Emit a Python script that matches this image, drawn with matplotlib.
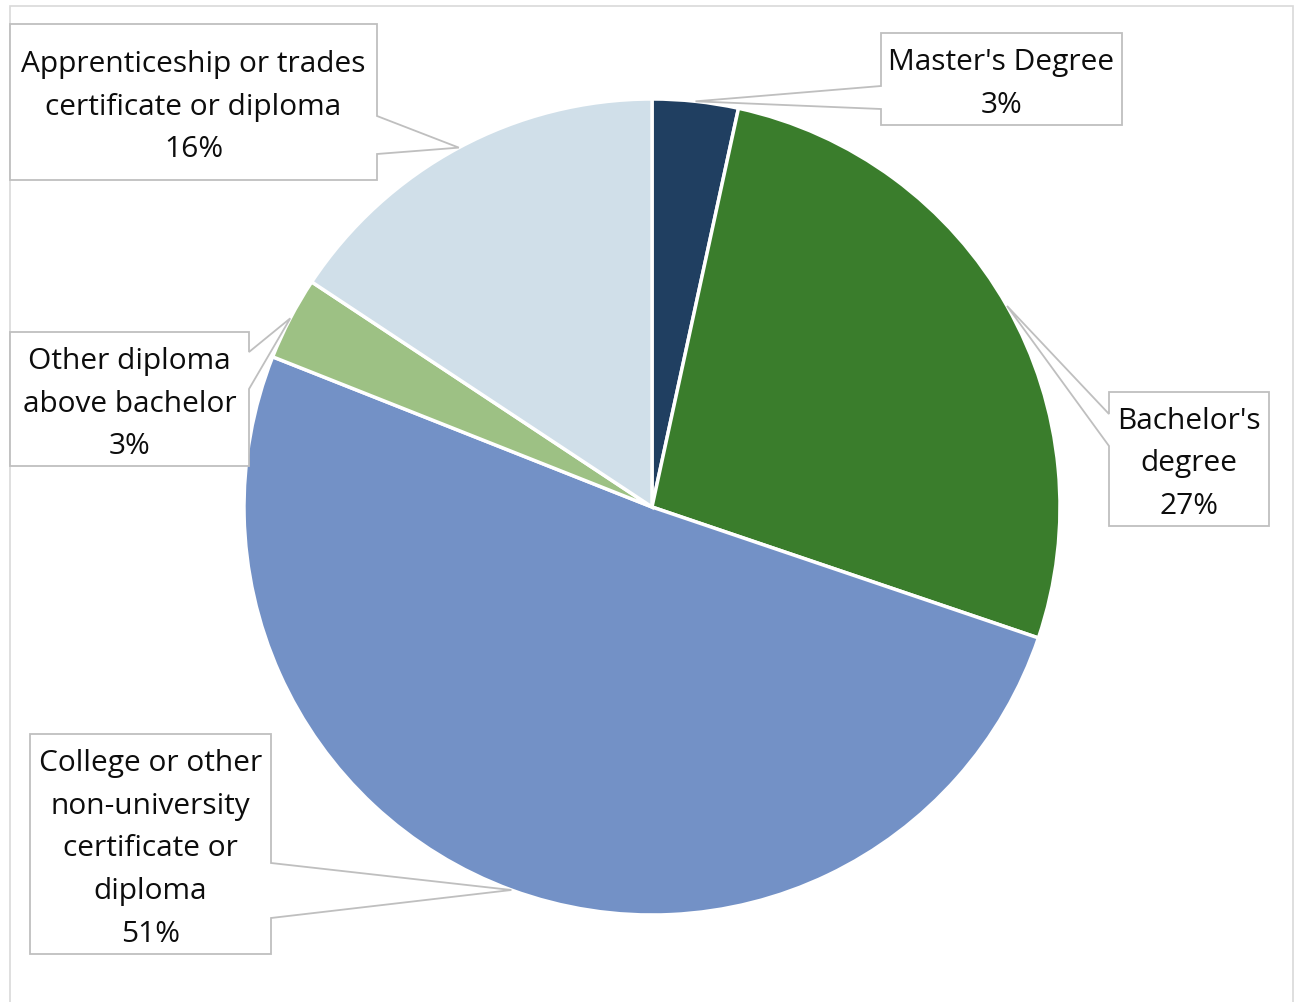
import matplotlib
matplotlib.use("Agg")
import matplotlib.pyplot as plt
from matplotlib.patches import Polygon, Rectangle
import numpy as np

plt.rcParams['font.family'] = ['Open Sans', 'DejaVu Sans']

# data (clockwise from 12 o'clock)
categories = ["Master's Degree", "Bachelor's\ndegree",
              "College or other\nnon-university\ncertificate or\ndiploma",
              "Other diploma\nabove bachelor",
              "Apprenticeship or trades\ncertificate or diploma"]
shares = [3.4, 26.8, 50.8, 3.3, 15.7]
colors = ["#203f61", "#3a7d2c", "#7391c6", "#9dc184", "#d0dfe9"]

# callout layout in pixel coords (y down): box x0, y0, x1, y1, side, gap y0, gap y1
callouts = [
    (881, 34, 1122, 126, "left", 87, 110),
    (1109, 393, 1269, 527, "left", 415, 447),
    (30, 735, 271, 955, "right", 864, 919),
    (10, 333, 249, 467, "right", 353, 390),
    (10, 25, 377, 181, "right", 117, 155),
]

W, H = 1295, 1003
fig = plt.figure(figsize=(W / 100, H / 100), dpi=100)
ax = fig.add_axes([0, 0, 1, 1])


def fy(y):
    return H - y


wedges, _ = ax.pie(shares, colors=colors, startangle=90, counterclock=False,
                   center=(652, fy(508)), radius=408,
                   wedgeprops=dict(edgecolor="white", linewidth=2.5))

ax.set_xlim(0, W)
ax.set_ylim(0, H)
ax.set_aspect("equal")
ax.axis("off")

# outer chart frame
ax.add_patch(Rectangle((10, fy(1010)), 1283, 1003, fill=False,
                       edgecolor="#d9d9d9", linewidth=1.2, zorder=0))

for w, cat, val, (x0, y0, x1, y1, side, g0, g1) in zip(wedges, categories, shares, callouts):
    mid = np.deg2rad((w.theta1 + w.theta2) / 2)
    tip = (w.center[0] + w.r * np.cos(mid), w.center[1] + w.r * np.sin(mid))
    pts = [(x0, fy(y0)), (x1, fy(y0))]
    if side == "right":
        pts += [(x1, fy(g0)), tip, (x1, fy(g1))]
    pts += [(x1, fy(y1)), (x0, fy(y1))]
    if side == "left":
        pts += [(x0, fy(g1)), tip, (x0, fy(g0))]
    ax.add_patch(Polygon(pts, closed=True, facecolor="white",
                         edgecolor="#bfbfbf", linewidth=1.3, zorder=3))
    ax.text((x0 + x1) / 2, fy((y0 + y1) / 2 + 4), f"{cat}\n{round(val)}%",
            ha="center", va="center", fontsize=21.5, color="#0d0d0d",
            linespacing=1.62, zorder=4)

fig.savefig("out.png", dpi=100)
